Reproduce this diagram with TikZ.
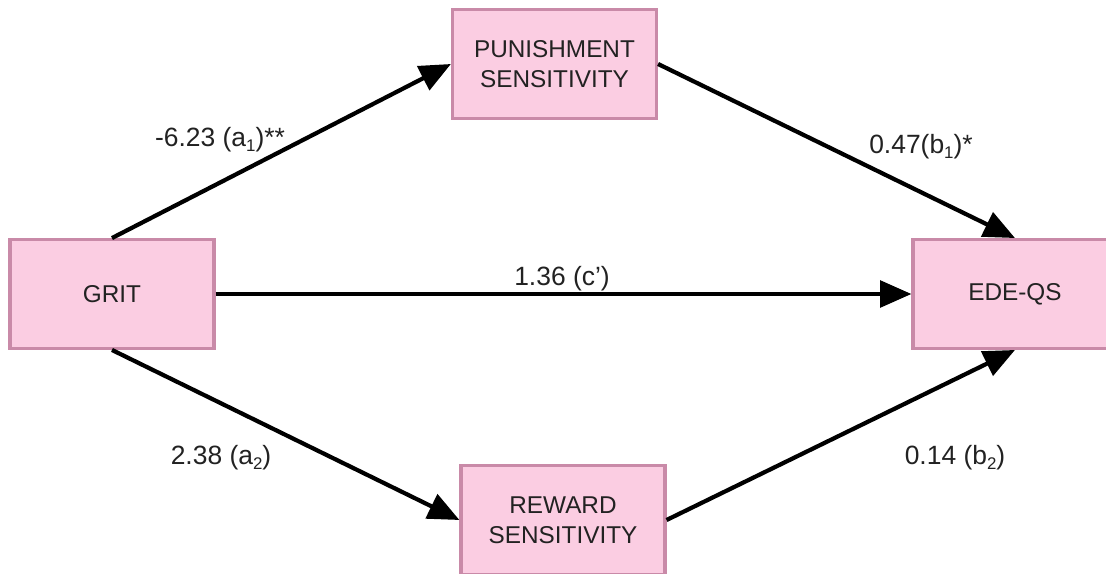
\documentclass[tikz,border=0pt]{standalone}
\usepackage{fontspec}
\setmainfont{Liberation Sans}
\usetikzlibrary{arrows.meta}
\definecolor{boxfill}{HTML}{FBCDE2}
\definecolor{boxline}{HTML}{C98AA8}
\definecolor{txt}{HTML}{222222}
\newcommand{\lsub}[1]{\raisebox{-0.35ex}{\fontsize{12}{14}\selectfont #1}}
\tikzset{
  varbox/.style={draw=boxline, fill=boxfill, line width=2.2pt, minimum width=5.1cm, minimum height=2.72cm, align=center, font=\fontsize{17.3}{21}\selectfont, text=txt, inner sep=0pt},
  path/.style={line width=3pt, -{Triangle[length=0.78cm,width=0.66cm]}},
  lbl/.style={font=\fontsize{18.8}{22}\selectfont, text=txt, inner sep=0pt}
}
\begin{document}
\begin{tikzpicture}[x=0.025cm,y=-0.025cm]
\useasboundingbox (0,0) rectangle (1106,573);
\fill[white] (0,0) rectangle (1106,573);
\node[varbox] (grit) at (112,294) {GRIT};
\node[varbox] (pun) at (554.5,64) {PUNISHMENT\\SENSITIVITY};
\node[varbox] (rew) at (563,520) {REWARD\\SENSITIVITY};
\node[varbox] (ede) at (1015,294) {EDE-QS};
\draw[path] (grit.north) -- (pun.west);
\draw[path] (pun.east) -- (ede.north);
\draw[path] (grit.east) -- (ede.west);
\draw[path] (grit.south) -- (rew.west);
\draw[path] (rew.east) -- (ede.south);
\node[lbl] (la1) at (220,140) {-6.23 (a\lsub{1})**};
\node[lbl] (lb1) at (921,147) {0.47(b\lsub{1})*};
\node[lbl] (lc) at (562,279) {1.36 (c’)};
\node[lbl] (la2) at (221,458) {2.38 (a\lsub{2})};
\node[lbl] (lb2) at (955,458) {0.14 (b\lsub{2})};
\end{tikzpicture}
\end{document}
